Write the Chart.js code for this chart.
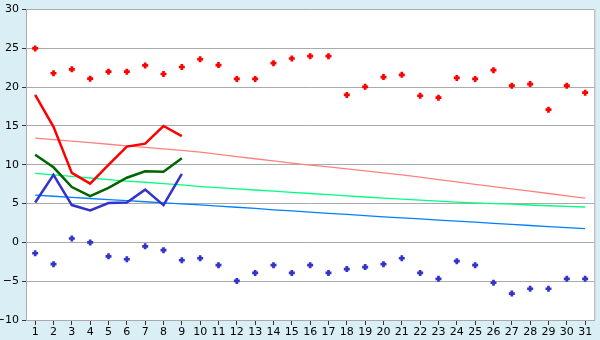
<!DOCTYPE html>
<html><head><meta charset="utf-8">
<script src="https://cdn.jsdelivr.net/npm/chart.js@4/dist/chart.umd.min.js"></script>
<style>
html,body{margin:0;padding:0;background:#D9EFF5;}
#wrap{width:600px;height:340px;position:relative;}
</style></head>
<body><div id="wrap"><canvas id="c" width="600" height="340"></canvas></div>
<script>
const days = ['1','2','3','4','5','6','7','8','9','10','11','12','13','14','15','16','17','18','19','20','21','22','23','24','25','26','27','28','29','30','31'];
const yTicks = [-10,-5,0,5,10,15,20,25,30];

const maxRecord = [25.0,21.8,22.3,21.1,22.0,22.0,22.8,21.7,22.6,23.6,22.85,21.07,21.07,23.1,23.7,24.0,24.0,19.0,20.05,21.3,21.6,18.9,18.65,21.2,21.07,22.2,20.2,20.4,17.1,20.2,19.3];
const minRecord = [-1.4,-2.8,0.5,0.0,-1.8,-2.17,-0.5,-1.0,-2.3,-2.04,-2.93,-4.96,-3.94,-2.93,-3.94,-2.93,-3.94,-3.44,-3.18,-2.8,-2.04,-3.94,-4.7,-2.42,-2.93,-5.2,-6.6,-5.97,-5.97,-4.7,-4.7];

const maxTemp = [19.0,14.9,8.96,7.57,9.98,12.35,12.73,15.0,13.7];
const meanTemp = [11.3,9.68,7.14,5.96,7.02,8.33,9.17,9.1,10.83];
const minTemp = [5.15,8.7,4.81,4.13,5.07,5.15,6.8,4.8,8.83];

const normMax = [13.45,13.25,13.05,12.85,12.65,12.45,12.25,12.05,11.85,11.63,11.35,11.05,10.78,10.5,10.22,9.97,9.72,9.47,9.22,8.97,8.7,8.4,8.1,7.8,7.48,7.2,6.9,6.6,6.3,6.0,5.71];
const normMean = [8.9,8.7,8.5,8.3,8.1,7.9,7.75,7.58,7.4,7.2,7.05,6.9,6.75,6.6,6.45,6.3,6.15,6.0,5.85,5.7,5.58,5.45,5.32,5.2,5.1,5.0,4.92,4.82,4.72,4.63,4.56];
const normMin = [6.09,5.95,5.8,5.66,5.52,5.38,5.24,5.1,4.97,4.83,4.68,4.53,4.38,4.2,4.05,3.9,3.75,3.6,3.45,3.3,3.16,3.02,2.88,2.74,2.6,2.46,2.32,2.18,2.04,1.9,1.77];

const plotBg = {
  id:'plotBg',
  beforeDraw(chart){
    const {ctx, chartArea:a} = chart;
    ctx.save();
    ctx.fillStyle = '#FFFFFF';
    ctx.fillRect(a.left, a.top, a.right - a.left, a.bottom - a.top);
    ctx.restore();
  },
  afterDatasetsDraw(chart){
    const {ctx, chartArea:a} = chart;
    ctx.save();
    ctx.strokeStyle = '#AAAAAA';
    ctx.lineWidth = 1;
    ctx.beginPath();
    ctx.moveTo(a.right + 0.5, a.top); ctx.lineTo(a.right + 0.5, a.bottom);
    ctx.stroke();
    ctx.restore();
  }
};

function lineDs(data, color, w){
  return {data, borderColor:color, backgroundColor:color, borderWidth:w, pointRadius:0, fill:false, tension:0, spanGaps:false};
}
function pointDs(data, color){
  return {data, showLine:false, borderColor:color, backgroundColor:color, pointStyle:'cross', pointRadius:3, borderWidth:2.7, pointHoverRadius:3};
}

new Chart(document.getElementById('c'), {
  type:'line',
  data:{
    labels: days,
    datasets:[
      lineDs(maxTemp, '#FF0000', 2.5),
      lineDs(meanTemp, '#006400', 2.5),
      lineDs(minTemp, '#3333CC', 2.5),
      pointDs(maxRecord, '#FF0000'),
      pointDs(minRecord, '#3333CC'),
      lineDs(normMax, '#FF8080', 1.3),
      lineDs(normMean, '#00FF80', 1.3),
      lineDs(normMin, '#0080FF', 1.3)
    ]
  },
  options:{
    responsive:false,
    animation:false,
    devicePixelRatio:1,
    layout:{padding:{top:5,right:5,left:0,bottom:0}},
    plugins:{legend:{display:false}, tooltip:{enabled:false}},
    scales:{
      x:{
        offset:true,
        grid:{offset:false, drawOnChartArea:false, drawTicks:true, tickLength:5, color:'#333333'},
        border:{display:true, color:'#AAAAAA', width:1},
        ticks:{color:'#000000', font:{family:'DejaVu Sans', size:11}, padding:1, maxRotation:0, autoSkip:false},
        afterFit(s){ s.height = 20; }
      },
      y:{
        min:-10, max:30,
        afterBuildTicks(s){ s.ticks = yTicks.map(v=>({value:v})); },
        grid:{color:'#AAAAAA', tickColor:'#333333', lineWidth:1, tickLength:4, drawTicks:true},
        border:{display:true, color:'#AAAAAA', width:1},
        ticks:{color:'#000000', font:{family:'DejaVu Sans', size:11}, padding:3,
          callback:(v)=> String(v).replace('-', '\u2212')},
        afterFit(s){ s.width = 26; }
      }
    }
  },
  plugins:[plotBg]
});
</script>
</body></html>
